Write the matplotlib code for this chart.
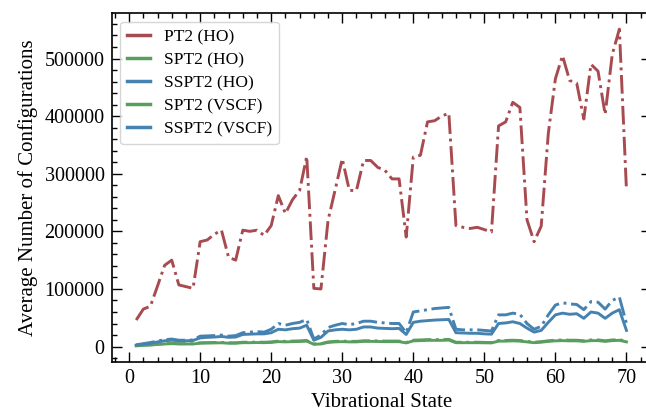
import matplotlib
matplotlib.use("Agg")
import matplotlib.pyplot as plt
from matplotlib.lines import Line2D
from matplotlib.ticker import AutoMinorLocator

states = list(range(1, 71))

pt2_ho = [46000, 65000, 70000, 105000, 141000, 150000, 107000, 104000, 101000, 182000,
          185000, 195000, 202000, 155000, 150000, 202000, 200000, 202000, 193000, 210000,
          262000, 231000, 255000, 271000, 330000, 101000, 100000, 219000, 272000, 326000,
          271000, 271000, 323000, 323000, 311000, 306000, 291000, 291000, 190000, 329000,
          332000, 390000, 392000, 400000, 405000, 210000, 207000, 205000, 207000, 203000,
          199000, 383000, 390000, 424000, 415000, 220000, 182000, 209000, 370000, 465000,
          505000, 462000, 457000, 395000, 490000, 478000, 403000, 507000, 551000, 272000]

sspt2_ho = [3000, 5000, 7000, 9500, 12000, 13000, 11000, 11000, 11500, 18000,
            18500, 19000, 20000, 18000, 19000, 24000, 25000, 26000, 25000, 30000,
            40000, 37000, 40000, 42000, 47000, 13000, 20000, 33000, 37000, 40000,
            38000, 40000, 44000, 44000, 42000, 41000, 40000, 40000, 24000, 60000,
            62000, 64000, 66000, 67000, 68000, 30000, 29000, 29000, 29000, 28000,
            27000, 55000, 55000, 58000, 56000, 40000, 30000, 35000, 55000, 72000,
            76000, 74000, 73000, 64000, 78000, 77000, 65000, 80000, 86000, 40000]

sspt2_vscf = [2500, 4000, 5500, 8000, 10000, 11000, 10000, 10000, 10500, 15000,
              16000, 16500, 17500, 16000, 16500, 21000, 21500, 22000, 22000, 24000,
              30000, 29000, 31000, 32000, 37000, 11000, 16000, 27000, 29000, 30000,
              29000, 30000, 34000, 34000, 32000, 31500, 31000, 31500, 21000, 42000,
              44000, 45000, 46000, 46500, 47000, 24000, 23500, 23000, 23000, 22000,
              21500, 40000, 41000, 43000, 40000, 32000, 25000, 28000, 42000, 55000,
              58000, 56000, 57000, 49000, 60000, 58000, 49000, 58000, 64000, 28000]

spt2_ho = [1500, 2500, 3000, 4000, 5000, 5500, 5000, 5000, 5000, 6500,
           6800, 7000, 7200, 6500, 6500, 7500, 7500, 7800, 7500, 8000,
           9500, 9000, 9500, 9800, 10500, 4500, 5000, 8000, 9000, 9500,
           9000, 9000, 10000, 10000, 9800, 9500, 9500, 9500, 7000, 11000,
           11500, 12000, 12000, 12000, 12500, 7500, 7500, 7500, 7500, 7200,
           7000, 10500, 10500, 11000, 10500, 9000, 7500, 8500, 10000, 11000,
           11500, 11000, 11000, 10000, 11500, 11500, 10000, 11500, 12000, 9000]

spt2_vscf = [1200, 2200, 2700, 3600, 4500, 5000, 4500, 4500, 4500, 5800,
             6100, 6300, 6500, 5800, 5800, 6700, 6700, 7000, 6700, 7200,
             8500, 8100, 8500, 8800, 9400, 4000, 4500, 7200, 8100, 8500,
             8100, 8100, 9000, 9000, 8800, 8500, 8500, 8500, 6300, 9900,
             10300, 10800, 10800, 10800, 11200, 6700, 6700, 6700, 6700, 6500,
             6300, 9400, 9400, 9900, 9400, 8100, 6700, 7600, 9000, 9900,
             10300, 9900, 9900, 9000, 10300, 10300, 9000, 10300, 10800, 8100]

RED = "#A84B50"
GREEN = "#5A9E5F"
BLUE = "#4682B0"

plt.rcParams["font.family"] = ["Liberation Serif", "DejaVu Serif"]
plt.rcParams["mathtext.fontset"] = "stix"

fig = plt.figure(figsize=(6.46, 4.18), dpi=100)
ax = fig.add_axes([0.1729, 0.1347, 0.8348, 0.8335])

lw = 2.1
ax.plot(states, pt2_ho, color=RED, lw=lw, ls="-.")
ax.plot(states, spt2_ho, color=GREEN, lw=lw, ls="-.")
ax.plot(states, sspt2_ho, color=BLUE, lw=lw, ls="-.")
ax.plot(states, spt2_vscf, color=GREEN, lw=lw, ls="-")
ax.plot(states, sspt2_vscf, color=BLUE, lw=lw, ls="-")

handles = [Line2D([], [], color=RED, lw=2.5),
           Line2D([], [], color=GREEN, lw=2.5),
           Line2D([], [], color=BLUE, lw=2.5),
           Line2D([], [], color=GREEN, lw=2.5),
           Line2D([], [], color=BLUE, lw=2.5)]
labels = ["PT2 (HO)", "SPT2 (HO)", "SSPT2 (HO)", "SPT2 (VSCF)", "SSPT2 (VSCF)"]
ax.legend(handles, labels, loc="upper left", fontsize=12.5, handlelength=1.3,
          frameon=True, fancybox=True, edgecolor="#cccccc", framealpha=0.8,
          borderpad=0.4, labelspacing=0.4, handletextpad=0.8,
          bbox_to_anchor=(0.0, 1.0), borderaxespad=0.5)

ax.xaxis.set_minor_locator(AutoMinorLocator(5))
ax.yaxis.set_minor_locator(AutoMinorLocator(5))
ax.tick_params(which="both", direction="in", top=True, right=True, labelsize=14.5)
ax.tick_params(which="major", length=7, width=1.0, pad=5)
ax.tick_params(which="minor", length=3.5, width=1.0)
for s in ax.spines.values():
    s.set_linewidth(1.2)

ax.set_xlabel("Vibrational State", fontsize=15, labelpad=4)
ax.set_ylabel("Average Number of Configurations", fontsize=15, labelpad=5)

fig.savefig("out.png", dpi=100)
